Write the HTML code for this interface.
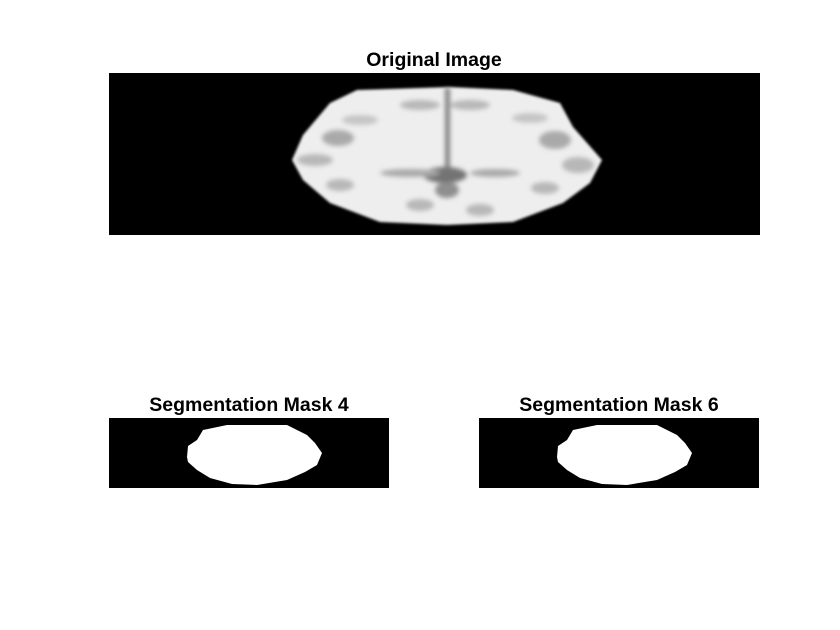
<!DOCTYPE html>
<html><head><meta charset="utf-8"><style>
html,body{margin:0;padding:0;background:#fff;}
svg{display:block;}
text{font-family:"Liberation Sans",sans-serif;font-weight:bold;font-size:19.5px;fill:#000;}
</style></head><body>
<svg width="840" height="630" viewBox="0 0 840 630">
<defs>
<filter id="b1"><feGaussianBlur stdDeviation="2.5"/></filter>
<filter id="b2"><feGaussianBlur stdDeviation="1.2"/></filter>
</defs>
<text x="434" y="66" text-anchor="middle">Original Image</text>
<g>
<rect x="109" y="73" width="651" height="162" fill="#000"/>
<polygon filter="url(#b2)" fill="#eeeeee" points="292,160 303,135 330,103 357,90 450,87 513,90 560,103 573,127 602,160 590,183 563,203 513,222 447,225 380,222 330,203 303,180"/>
<g filter="url(#b1)" fill="#888" opacity="0.8">
<ellipse cx="338" cy="138" rx="16" ry="8" fill="#999"/>
<ellipse cx="555" cy="140" rx="16" ry="9" fill="#999"/>
<ellipse cx="315" cy="160" rx="18" ry="6" fill="#aaa"/>
<ellipse cx="578" cy="165" rx="16" ry="8" fill="#aaa"/>
<rect x="445" y="88" width="5" height="95" fill="#666"/>
<ellipse cx="445" cy="175" rx="22" ry="8" fill="#555"/>
<ellipse cx="447" cy="190" rx="12" ry="8" fill="#777"/>
<ellipse cx="410" cy="173" rx="30" ry="4" fill="#999"/>
<ellipse cx="495" cy="173" rx="25" ry="4" fill="#999"/>
<ellipse cx="340" cy="185" rx="14" ry="6" fill="#aaa"/>
<ellipse cx="545" cy="188" rx="14" ry="6" fill="#aaa"/>
<ellipse cx="420" cy="205" rx="14" ry="6" fill="#aaa"/>
<ellipse cx="480" cy="210" rx="14" ry="6" fill="#aaa"/>
<ellipse cx="470" cy="105" rx="20" ry="5" fill="#aaa"/>
<ellipse cx="420" cy="105" rx="20" ry="5" fill="#aaa"/>
<ellipse cx="360" cy="120" rx="18" ry="5" fill="#bbb"/>
<ellipse cx="530" cy="118" rx="18" ry="5" fill="#bbb"/>
</g>
</g>
<text x="249" y="411" text-anchor="middle">Segmentation Mask 4</text>
<g>
<rect x="109" y="418" width="280" height="70" fill="#000"/>
<polygon fill="#fff" points="187,457 188,446 197,440 203,430 227,425 287,425 307,435 315,443 322,453 317,465 305,472 287,480 257,485 232,484 210,478 197,470 188,462"/>
</g>
<text x="619" y="411" text-anchor="middle">Segmentation Mask 6</text>
<g>
<rect x="479" y="418" width="280" height="70" fill="#000"/>
<polygon fill="#fff" points="557,457 558,446 567,440 573,430 597,425 657,425 677,435 685,443 692,453 687,465 675,472 657,480 627,485 602,484 580,478 567,470 558,462"/>
</g>
</svg>
</body></html>
